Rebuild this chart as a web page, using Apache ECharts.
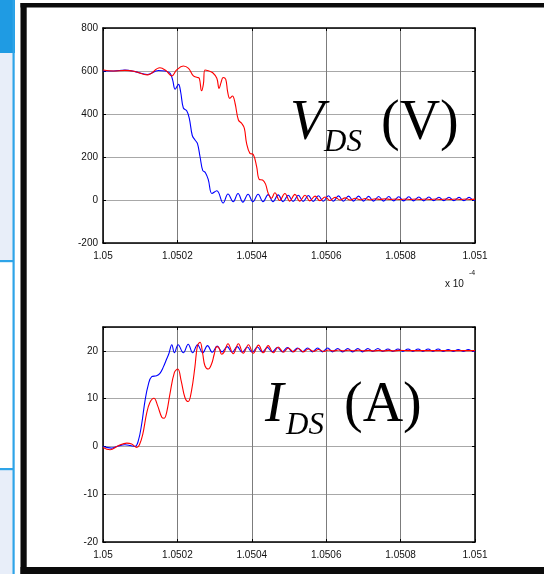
<!DOCTYPE html>
<html><head><meta charset="utf-8">
<script src="https://cdn.jsdelivr.net/npm/echarts@6/dist/echarts.min.js"></script>
<style>html,body{margin:0;padding:0;background:#fff}#c{width:544px;height:574px}</style>
</head><body><div id="c"></div><script>
// time in ns after 1.05e-4 s ; axis labels shown in units of 1e-4 s
const xTickLabels = ['1.05','1.0502','1.0504','1.0506','1.0508','1.051'];
const vTicks = [-200, 0, 200, 400, 600, 800];
const iTicks = [-20, -10, 0, 10, 20];

const vBlue = [[0,600],[2.8,600],[5.9,604],[8.6,597],[11.9,584],[14.9,602],[16.7,600],[18.0,590],[18.7,560],[19.4,515],[20.3,538],[20.9,500],[21.6,428],[22.5,415],[23.2,380],[24.0,300],[24.7,280],[25.4,262],[26.1,200],[26.8,138],[27.5,128],[28.3,95],[29.3,30],[30.6,43],[32.3,-14],[33.6,28],
[35.0,-8],[36.3,30],[37.6,-10],[39.0,27],[40.3,-8],[41.7,27],[43.0,-8],[44.4,25],[45.7,-8],[47.1,24],[48.4,-8],[49.8,22],[51.1,-7],[52.5,22],[53.8,-7],[55.2,21],[56.5,-7],[57.9,20],[59.2,-6],[60.6,20],[61.9,-6],[63.3,19],[64.6,-6],[66.0,18],[67.3,-5],[68.7,18],[70.0,-5],[71.4,17],[72.7,-5],[74.1,16],[75.4,-5],[76.8,16],[78.1,-4],[79.5,15],[80.8,-4],[82.2,15],[83.5,-4],[84.9,14],[86.2,-4],[87.6,14],[88.9,-3],[90.3,13],[91.6,-3],[93.0,13],[94.3,-3],[95.7,12],[97.0,-3],[98.4,12],[99.7,-2],[100,0]];

const vRed = [[0,605],[2.8,600],[5.9,603],[8.6,598],[11.9,582],[15.3,615],[16.9,602],[18.5,577],[19.8,605],[21.6,623],[23.0,612],[24.3,577],[25.4,570],[25.9,566],[26.5,508],[27.0,540],[27.4,605],[28.3,601],[29.5,592],[30.6,566],[31.2,519],[31.7,545],[32.3,570],[33.0,561],[33.5,504],[34.1,473],[34.8,484],[35.5,450],[36.4,372],[37.3,356],[38.0,333],[38.6,263],[39.5,217],[40.4,212],[41.3,155],[42.0,96],[42.9,93],[43.7,74],[44.4,31],[45.3,8],
[46.2,34],[47.5,-2],[48.9,30],[50.2,-5],[51.6,26],[52.9,-5],[54.3,22],[55.6,-4],[57.0,18],[58.3,-3],[59.7,14],[61.0,-2],[62.4,12],[63.7,0],[65.1,10],[66.4,0],[67.8,8],[69.1,1],[70.5,7],[71.8,1],[73.2,6],[74.5,2],[75.9,6],[77.2,2],[78.6,5],[79.9,2],[81.3,5],[82.6,2],[84.0,5],[85.3,2],[86.7,5],[88.0,2],[89.4,5],[90.7,2],[92.1,5],[93.4,2],[94.8,5],[96.1,2],[97.5,5],[98.8,2],[100,4]];

const iBlue = [[0,0],[1.0,-0.2],[2.3,-0.35],[4.1,0.1],[5.9,0.35],[7.3,0.2],[8.6,0],[9.5,1.2],[10.4,4.7],[11.3,9.6],[12.2,13],[13.1,14.6],[14.4,14.8],[15.3,15.3],[16.2,16.6],[17.1,18.3],[17.7,19.4],[18.5,21.3],[19.2,19.6],[20.2,21.3],[21.6,19.6],[22.9,21.4],[24.1,19.6],[25.4,21.3],[26.8,19.6],[28.1,21.1],[29.4,19.7],[30.7,21.0],
[32.0,19.8],[33.4,20.9],[34.7,19.7],[36.1,20.9],[37.4,19.7],[38.8,20.8],[40.1,19.7],[41.5,20.8],[42.8,19.8],[44.2,20.7],[45.5,19.8],[46.9,20.7],[48.2,19.8],[49.6,20.7],[50.9,19.8],[52.3,20.6],[53.6,19.8],[55.0,20.6],[56.3,19.8],[57.7,20.6],[59.0,19.8],[60.4,20.6],[61.7,19.8],[63.1,20.5],[64.4,19.8],[65.8,20.5],[67.1,19.8],[68.5,20.5],[69.8,19.8],[71.2,20.5],[72.5,19.9],[73.9,20.5],[75.2,19.9],[76.6,20.4],[77.9,19.9],[79.3,20.4],[80.6,19.9],[82.0,20.4],[83.3,19.9],[84.7,20.4],[86.0,19.9],[87.4,20.4],[88.7,19.9],[90.1,20.4],[91.4,19.9],[92.8,20.3],[94.1,19.9],[95.5,20.3],[96.8,19.9],[98.2,20.3],[99.5,19.9],[100,20.0]];

const iRed = [[0,-0.2],[1.9,-0.7],[4.1,0.15],[6.4,0.7],[7.7,0.5],[9.1,-0.2],[9.8,0.35],[10.7,2.6],[11.7,6.8],[12.6,9.2],[13.7,10.1],[14.7,8.5],[15.8,6.1],[16.4,5.9],[17.1,7.1],[18.0,11],[19.2,15.5],[20.1,16.2],[21.0,13.8],[22.0,10.3],[22.9,9.4],[23.8,11.7],[24.7,16.6],[25.4,21.1],[26.1,21.8],[26.8,19.4],[27.4,16.9],[28.3,16.2],[29.2,17.3],[29.9,19.3],[30.6,20.9],[31.2,20.6],[31.9,19.3],[32.6,19.8],[33.6,21.5],[35.0,19.4],[36.4,21.5],[37.7,19.5],[39.1,21.3],[40.4,19.5],[41.8,21.2],[43.1,19.6],[44.4,21.1],[45.8,19.6],[47.1,20.8],[48.5,19.7],[49.8,20.6],[51.2,19.8],[52.5,20.5],[53.9,19.8],[55.2,20.4],[56.6,19.9],[57.9,20.3],[59.3,19.9],[60.6,20.2],[62.0,20.0],[63.3,20.2],[64.7,20.0],[66.0,20.15],[67.4,20.0],[68.7,20.15],[70.1,20.0],[71.4,20.1],[72.8,20.0],[74.1,20.1],[75.5,20.0],[76.8,20.1],[78.2,20.0],[79.5,20.1],[82,20.05],[85,20.05],[90,20.05],[95,20.05],[100,20.05]];

const LBL = {color:'#111', fontSize:10, fontFamily:'Liberation Sans, Arial, sans-serif'};
function xAxes(g){
  return [
    {gridIndex:g, type:'value', min:0, max:100, interval:20, position:'bottom',
     axisLine:{onZero:false, lineStyle:{color:'#000', width:1.5}},
     axisTick:{inside:true, length:3, lineStyle:{color:'#000'}},
     axisLabel:Object.assign({margin:8, showMinLabel:true, showMaxLabel:true,
        formatter:v=>xTickLabels[Math.round(v/20)]}, LBL),
     splitLine:{show:true, lineStyle:{color:'#7c7c7c', width:1}}},
    {gridIndex:g, type:'value', min:0, max:100, interval:20, position:'top',
     axisLine:{onZero:false, lineStyle:{color:'#000', width:1.5}},
     axisTick:{inside:true, length:3, lineStyle:{color:'#000'}},
     axisLabel:{show:false}, splitLine:{show:false}}
  ];
}
function yAxes(g, ticks, mx){
  const mn = ticks[0], iv = ticks[1]-ticks[0];
  return [
    {gridIndex:g, type:'value', min:mn, max:mx, interval:iv, position:'left',
     axisLine:{onZero:false, lineStyle:{color:'#000', width:1.5}},
     axisTick:{inside:true, length:3, lineStyle:{color:'#000'}},
     axisLabel:Object.assign({margin:5, formatter:v=>ticks.indexOf(v)>=0?String(v):''}, LBL),
     splitLine:{show:true, lineStyle:{color:'#a8a8a8', width:1}}},
    {gridIndex:g, type:'value', min:mn, max:mx, interval:iv, position:'right',
     axisLine:{onZero:false, lineStyle:{color:'#000', width:1.5}},
     axisTick:{inside:true, length:3, lineStyle:{color:'#000'}},
     axisLabel:{show:false}, splitLine:{show:false}}
  ];
}
function line(data, color, xi, yi){
  return {type:'line', data:data, xAxisIndex:xi, yAxisIndex:yi, showSymbol:false, smooth:0.4,
    lineStyle:{color:color, width:1.1}, itemStyle:{color:color}, animation:false, silent:true};
}
const chart = echarts.init(document.getElementById('c'), null, {renderer:'canvas'});
const serif = 'Liberation Serif, "DejaVu Serif", serif';
chart.setOption({
  backgroundColor:'#ffffff',
  animation:false,
  grid:[{left:103, top:28, width:372, height:215},{left:103, top:327, width:372, height:215}],
  xAxis: xAxes(0).concat(xAxes(1)),
  yAxis: yAxes(0, vTicks, 800).concat(yAxes(1, iTicks, 25)),
  series:[
    line(vBlue,'#0000ff',0,0), line(vRed,'#ff0000',0,0),
    line(iBlue,'#0000ff',2,2), line(iRed,'#ff0000',2,2)
  ],
  graphic:[
    // page decoration: left strip and frame
    {type:'rect', shape:{x:0,y:0,width:13,height:574}, style:{fill:'#e8eef9'}, z:-10},
    {type:'rect', shape:{x:0,y:262,width:13,height:206}, style:{fill:'#ffffff'}, z:-9},
    {type:'rect', shape:{x:0,y:0,width:15,height:53}, style:{fill:'#1f9be3'}, z:-8},
    {type:'rect', shape:{x:12.5,y:0,width:2.2,height:574}, style:{fill:'#2ea4e8'}, z:-8},
    {type:'rect', shape:{x:0,y:260,width:14,height:2.2}, style:{fill:'#2ea4e8'}, z:-8},
    {type:'rect', shape:{x:0,y:468,width:14,height:2.2}, style:{fill:'#2ea4e8'}, z:-8},
    {type:'rect', shape:{x:20.5,y:3,width:524,height:4.5}, style:{fill:'#0b0b0b'}, z:-8},
    {type:'rect', shape:{x:20.5,y:3,width:6.2,height:571}, style:{fill:'#0b0b0b'}, z:-8},
    {type:'rect', shape:{x:20.5,y:567,width:524,height:7}, style:{fill:'#0b0b0b'}, z:-8},
    // exponent label
    {type:'text', style:{text:'x 10', x:445, y:284, fill:'#111', font:'10px Liberation Sans, Arial, sans-serif', verticalAlign:'middle'}},
    {type:'text', style:{text:'-4', x:469, y:273, fill:'#111', font:'7px Liberation Sans, Arial, sans-serif', verticalAlign:'middle'}},
    // V_DS (V)
    {type:'text', z:20, style:{text:'V', x:290, y:124, fill:'#000', font:'italic 56px '+serif, verticalAlign:'middle'}},
    {type:'text', z:20, style:{text:'DS', x:324, y:143, fill:'#000', font:'italic 31px '+serif, verticalAlign:'middle'}},
    {type:'text', z:20, style:{text:'(V)', x:381, y:124, fill:'#000', font:'56px '+serif, verticalAlign:'middle'}},
    // I_DS (A)
    {type:'text', z:20, style:{text:'I', x:265, y:406, fill:'#000', font:'italic 56px '+serif, verticalAlign:'middle'}},
    {type:'text', z:20, style:{text:'DS', x:286, y:426, fill:'#000', font:'italic 31px '+serif, verticalAlign:'middle'}},
    {type:'text', z:20, style:{text:'(A)', x:344, y:406, fill:'#000', font:'56px '+serif, verticalAlign:'middle'}}
  ]
});
</script></body></html>
